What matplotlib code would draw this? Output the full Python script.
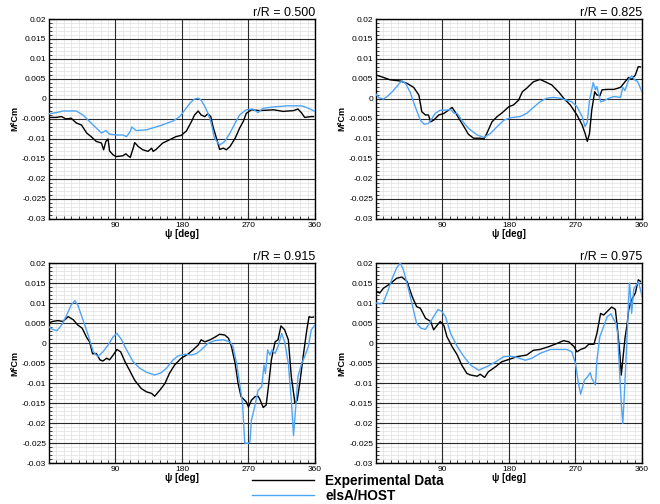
"""Blade section pitching moment M²Cm vs azimuth: test data against elsA/HOST."""

import matplotlib.pyplot as plt
from matplotlib.ticker import FuncFormatter, MultipleLocator

plt.rcParams["font.family"] = ["Liberation Sans", "DejaVu Sans"]

# r/R = 0.500
psi_exp_500 = [0, 10, 17, 23, 30, 37, 44, 51, 57, 64, 71, 74, 77, 80, 82, 87, 91, 100, 104, 107,
               110, 114, 116, 121, 127, 134, 139, 141, 145, 154, 161, 172, 179, 186, 193, 197,
               202, 206, 211, 215, 219, 222, 227, 231, 236, 240, 245, 252, 258, 263, 267, 274,
               285, 304, 317, 331, 337, 342, 346, 355, 358]
cm_exp_500 = [-0.0046, -0.0046, -0.0044, -0.005, -0.0048, -0.006, -0.0065, -0.0085, -0.0094,
              -0.0106, -0.011, -0.0127, -0.0106, -0.010, -0.013, -0.014, -0.0144, -0.0142,
              -0.0137, -0.0142, -0.0146, -0.0123, -0.0109, -0.0119, -0.0127, -0.0131, -0.0123,
              -0.0131, -0.0126, -0.011, -0.0104, -0.0094, -0.0091, -0.008, -0.0056, -0.004,
              -0.003, -0.004, -0.0044, -0.0037, -0.0044, -0.0069, -0.010, -0.0126, -0.0123,
              -0.0127, -0.0119, -0.0098, -0.0073, -0.0056, -0.0036, -0.0027, -0.0029, -0.0027,
              -0.0031, -0.0029, -0.0025, -0.0035, -0.0046, -0.0044, -0.0044]
psi_cfd_500 = [0, 10, 19, 37, 46, 57, 71, 77, 82, 91, 100, 105, 110, 112, 118, 132, 150, 168,
               177, 184, 191, 197, 202, 206, 211, 215, 219, 224, 231, 238, 245, 252, 258, 267,
               276, 283, 290, 304, 322, 342, 351, 360]
cm_cfd_500 = [-0.0037, -0.0034, -0.003, -0.003, -0.004, -0.006, -0.0085, -0.0079, -0.0088,
              -0.009, -0.009, -0.0094, -0.0081, -0.007, -0.0079, -0.0077, -0.0067, -0.0055,
              -0.0044, -0.0027, -0.001, 0.0, 0.0002, -0.0003, -0.0019, -0.0035, -0.0056,
              -0.0098, -0.0115, -0.0106, -0.0085, -0.006, -0.004, -0.0027, -0.0025, -0.0034,
              -0.0023, -0.002, -0.0017, -0.0017, -0.0023, -0.0031]

# r/R = 0.825
psi_exp_825 = [0, 10, 19, 33, 42, 51, 58, 62, 67, 71, 74, 78, 85, 92, 98, 103, 107, 112, 119,
               125, 132, 141, 146, 150, 157, 164, 171, 180, 186, 193, 198, 204, 213, 222, 229,
               238, 247, 254, 263, 272, 279, 283, 286, 289, 292, 296, 299, 303, 306, 313, 322,
               331, 337, 342, 346, 351, 355, 358]
cm_exp_825 = [0.006, 0.0054, 0.0048, 0.0045, 0.0039, 0.0029, 0.001, -0.0032, -0.004, -0.004,
              -0.0057, -0.0053, -0.004, -0.0036, -0.0028, -0.0021, -0.0032, -0.0048, -0.0069,
              -0.0088, -0.0098, -0.0098, -0.010, -0.0086, -0.0057, -0.0044, -0.0034, -0.0019,
              -0.0015, -0.0003, 0.0018, 0.0027, 0.0043, 0.0049, 0.0043, 0.0035, 0.0018, 0.0002,
              -0.0015, -0.004, -0.0065, -0.0086, -0.0106, -0.0086, -0.0028, 0.0018, 0.001,
              0.0008, 0.0023, 0.0024, 0.0024, 0.0029, 0.0043, 0.0054, 0.0049, 0.006, 0.0081,
              0.008]
psi_cfd_825 = [0, 4, 10, 15, 22, 28, 35, 40, 46, 53, 60, 65, 71, 76, 80, 87, 94, 101, 106, 110,
               116, 125, 137, 146, 155, 164, 173, 182, 195, 204, 213, 222, 231, 240, 249, 258,
               265, 272, 279, 283, 286, 289, 294, 297, 299, 304, 308, 315, 322, 331, 334, 337,
               342, 346, 350, 354, 360]
cm_cfd_825 = [0.0012, 0.0003, 0.0, 0.0006, 0.0018, 0.0031, 0.0046, 0.0039, 0.0018, -0.0019,
              -0.0053, -0.0063, -0.0061, -0.0048, -0.0036, -0.0028, -0.0028, -0.0026, -0.0036,
              -0.0036, -0.0053, -0.0073, -0.009, -0.0096, -0.0086, -0.0069, -0.0053, -0.0047,
              -0.0044, -0.0036, -0.0021, -0.0007, 0.0002, 0.0004, 0.0002, -0.0003, -0.0007,
              -0.0019, -0.0044, -0.0069, -0.0057, -0.0003, 0.0041, 0.0023, 0.0031, -0.0007,
              -0.0005, 0.0002, 0.0006, 0.0004, 0.0029, 0.0021, 0.0048, 0.0058, 0.0048, 0.0044,
              0.0018]

# r/R = 0.915
psi_exp_915 = [0, 5, 12, 19, 26, 33, 39, 45, 51, 55, 59, 64, 69, 73, 78, 82, 87, 92, 97, 103,
               109, 116, 125, 132, 139, 143, 150, 157, 163, 170, 179, 188, 195, 202, 206, 211,
               218, 224, 231, 238, 243, 247, 252, 256, 260, 267, 270, 274, 279, 283, 285, 290,
               294, 297, 301, 306, 310, 314, 319, 324, 328, 333, 336, 340, 344, 349, 352, 355,
               358]
cm_exp_915 = [0.005, 0.0054, 0.0056, 0.0054, 0.0066, 0.0058, 0.0045, 0.0037, 0.0014, 0.0003,
              -0.0027, -0.0026, -0.0042, -0.0045, -0.0038, -0.0042, -0.003, -0.0016, -0.0022,
              -0.0047, -0.0068, -0.0093, -0.0114, -0.0122, -0.0126, -0.0133, -0.0118, -0.0101,
              -0.0076, -0.0055, -0.0038, -0.0028, -0.0017, -0.0005, 0.0008, 0.0003, 0.0008,
              0.0014, 0.0022, 0.002, 0.0012, -0.0009, -0.0051, -0.0101, -0.0134, -0.0147,
              -0.016, -0.0143, -0.0134, -0.0133, -0.0139, -0.0161, -0.0155, -0.0109, -0.0042,
              0.0003, 0.0008, 0.0043, 0.0033, 0.0008, -0.0084, -0.0151, -0.0143, -0.0093,
              -0.0034, 0.0033, 0.0066, 0.0064, 0.0065]
psi_cfd_915 = [0, 5, 11, 17, 23, 30, 35, 39, 46, 53, 60, 66, 73, 80, 87, 92, 98, 105, 114, 123,
               132, 143, 152, 159, 168, 175, 184, 193, 200, 206, 215, 224, 236, 245, 249, 254,
               258, 262, 265, 270, 272, 274, 279, 283, 288, 291, 293, 296, 299, 302, 306, 310,
               315, 319, 324, 328, 331, 334, 337, 342, 346, 351, 355, 360]
cm_cfd_915 = [0.004, 0.0034, 0.0031, 0.0045, 0.0066, 0.0095, 0.0106, 0.0095, 0.0058, 0.002,
              -0.0022, -0.0034, -0.0022, -0.0005, 0.0016, 0.0024, 0.0009, -0.0017, -0.0047,
              -0.0063, -0.0073, -0.008, -0.0074, -0.0063, -0.0042, -0.0032, -0.0028, -0.003,
              -0.0026, -0.0017, -0.0001, 0.0006, 0.0008, 0.0003, -0.0009, -0.0051, -0.0101,
              -0.0151, -0.025, -0.0251, -0.0247, -0.0193, -0.0155, -0.0118, -0.0109, -0.0055,
              -0.0076, -0.0017, -0.003, -0.0017, -0.0026, -0.0009, 0.0024, 0.0003, -0.0051,
              -0.0143, -0.0231, -0.016, -0.0084, -0.0051, -0.0034, -0.0009, 0.0033, 0.0045]

# r/R = 0.975
psi_exp_975 = [0, 5, 10, 19, 28, 35, 42, 49, 55, 60, 67, 74, 78, 83, 87, 92, 96, 103, 110, 116,
               123, 128, 137, 141, 147, 152, 162, 170, 180, 191, 204, 213, 222, 234, 245, 254,
               261, 268, 272, 277, 283, 288, 295, 299, 304, 308, 313, 319, 324, 327, 330, 332,
               334, 337, 340, 342, 346, 351, 355, 358]
cm_exp_975 = [0.0129, 0.0125, 0.0137, 0.0148, 0.0162, 0.0165, 0.0154, 0.0116, 0.0091, 0.0087,
              0.0062, 0.0054, 0.0033, 0.0045, 0.0054, 0.0043, 0.0016, -0.0009, -0.003, -0.0055,
              -0.0076, -0.008, -0.0083, -0.0078, -0.0086, -0.0072, -0.0059, -0.0047, -0.0041,
              -0.0034, -0.003, -0.0018, -0.0016, -0.0009, -0.0001, 0.0006, 0.0003, -0.0009,
              -0.0022, -0.0016, -0.0012, -0.0003, -0.0003, 0.0024, 0.0074, 0.007, 0.0079, 0.009,
              0.0084, 0.0033, -0.0026, -0.008, -0.0043, 0.0012, 0.0049, 0.0083, 0.0108, 0.0125,
              0.0158, 0.0154]
psi_cfd_975 = [0, 6, 10, 15, 22, 28, 33, 37, 43, 49, 55, 61, 67, 74, 78, 84, 89, 94, 101, 110,
               119, 128, 139, 150, 162, 173, 182, 191, 202, 211, 222, 236, 249, 258, 265, 270,
               274, 277, 282, 286, 290, 292, 297, 299, 303, 308, 313, 318, 322, 325, 327, 330,
               332, 334, 336, 338, 341, 343, 344, 346, 349, 353, 355, 358, 360]
cm_cfd_975 = [0.01, 0.0098, 0.0102, 0.0125, 0.0162, 0.0188, 0.020, 0.0183, 0.0142, 0.0096,
              0.0049, 0.0037, 0.0034, 0.0054, 0.0066, 0.0084, 0.0079, 0.0066, 0.0024, -0.0009,
              -0.0034, -0.0055, -0.0068, -0.0059, -0.0047, -0.0034, -0.0033, -0.0036, -0.0043,
              -0.0038, -0.0026, -0.0016, -0.0016, -0.0016, -0.0022, -0.0051, -0.0101, -0.0128,
              -0.0093, -0.0085, -0.0074, -0.0088, -0.0105, -0.0043, 0.0016, 0.0041, 0.0066,
              0.0073, 0.0058, 0.0049, 0.0024, -0.0084, -0.0151, -0.0201, -0.0134, -0.0055,
              0.0066, 0.015, 0.0133, 0.0074, 0.0137, 0.0146, 0.0154, 0.0133, 0.0117]

stations = ["0.500", "0.825", "0.915", "0.975"]
exp_data = [(psi_exp_500, cm_exp_500), (psi_exp_825, cm_exp_825),
            (psi_exp_915, cm_exp_915), (psi_exp_975, cm_exp_975)]
cfd_data = [(psi_cfd_500, cm_cfd_500), (psi_cfd_825, cm_cfd_825),
            (psi_cfd_915, cm_cfd_915), (psi_cfd_975, cm_cfd_975)]

EXP_COLOR = "black"
CFD_COLOR = "#4ea5f7"
MAJOR_GRID = "#2a2a2a"

# axes boxes in figure fractions (left, bottom, width, height)
boxes = [
    (0.0742, 0.5655, 0.403, 0.3968),
    (0.5697, 0.5655, 0.403, 0.3968),
    (0.0742, 0.0813, 0.403, 0.3968),
    (0.5697, 0.0813, 0.403, 0.3968),
]


def fmt_cm(v, _pos):
    v = round(v, 4)
    if v == 0:
        return "0"
    return f"{v:g}"


fig = plt.figure(figsize=(6.6, 5.04), dpi=100)

for station, box, (px, py), (cx, cy) in zip(stations, boxes, exp_data, cfd_data):
    ax = fig.add_axes(box)
    exp_line, = ax.plot(px, py, color=EXP_COLOR, lw=1.0, zorder=3)
    cfd_line, = ax.plot(cx, cy, color=CFD_COLOR, lw=1.0, zorder=3)

    ax.set_xlim(0, 360)
    ax.set_ylim(-0.03, 0.02)
    ax.set_xticks([90, 180, 270, 360])
    ax.xaxis.set_minor_locator(MultipleLocator(10))
    ax.yaxis.set_major_locator(MultipleLocator(0.005))
    ax.yaxis.set_minor_locator(MultipleLocator(0.001))
    ax.yaxis.set_major_formatter(FuncFormatter(fmt_cm))

    # light minor grid underneath, dark major grid drawn on top of it
    ax.grid(which="minor", color="#e0e0e0", lw=0.5)
    ax.set_axisbelow(True)
    for xv in ax.get_xticks():
        ax.axvline(xv, color=MAJOR_GRID, lw=0.8, zorder=1)
    for yv in ax.get_yticks():
        ax.axhline(yv, color=MAJOR_GRID, lw=0.8, zorder=1)

    ax.tick_params(which="both", direction="in", labelsize=6, pad=2, color="#222222")
    ax.tick_params(which="major", length=4)
    ax.tick_params(which="minor", length=2.5)
    for side in ax.spines.values():
        side.set_linewidth(1.0)

    ax.set_xlabel("ψ [deg]", fontsize=7, fontweight="bold", labelpad=0)
    ax.set_ylabel("M²Cm", fontsize=6.5, fontweight="bold", labelpad=2)
    ax.set_title(f"r/R = {station}", loc="right", fontsize=9, pad=1)

fig.legend([exp_line, cfd_line], ["Experimental Data", "elsA/HOST"],
           loc="lower left", bbox_to_anchor=(0.367, -0.016), frameon=False,
           prop={"size": 9.8, "weight": "bold"}, handlelength=4.6,
           handletextpad=0.8, labelspacing=0.05, borderpad=0.2)

fig.savefig("out.png", dpi=100)
